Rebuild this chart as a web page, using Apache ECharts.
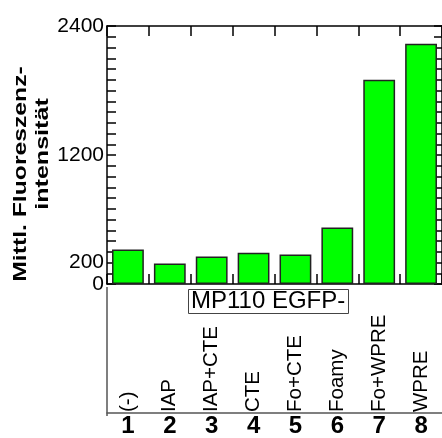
<!DOCTYPE html>
<html>
<head>
<meta charset="utf-8">
<script src="https://cdn.jsdelivr.net/npm/echarts@6/dist/echarts.min.js"></script>
<style>
  html, body { margin: 0; padding: 0; background: #fff; }
  #chart { width: 442px; height: 438px; }
</style>
</head>
<body>
<div id="chart"></div>
<script>
// Construct names, lane numbers and mean fluorescence per construct
const constructs = ['(-)', 'IAP', 'IAP+CTE', 'CTE', 'Fo+CTE', 'Foamy', 'Fo+WPRE', 'WPRE'];
const laneNumbers = ['1', '2', '3', '4', '5', '6', '7', '8'];
const meanFluorescence = [320, 190, 255, 290, 275, 525, 1900, 2235];
const yTickLabels = [0, 200, 1200, 2400];
const groupLabel = 'MP110 EGFP-';
const yTitleLines = ['Mittl. Fluoreszenz-', 'intensität'];

const FONT = '"Liberation Sans", Arial, sans-serif';
const chart = echarts.init(document.getElementById('chart'), null, { renderer: 'canvas' });

const lineStyle = { color: '#000', width: 1.5 };
const frameLine = { show: true, onZero: false, lineStyle };
const boundaryTicks = { show: true, inside: true, length: 10, interval: 0, lineStyle };
const noTick = { show: false };
const noSplit = { show: false };

chart.setOption({
  animation: false,
  backgroundColor: '#fff',
  grid: { left: 107, top: 26, width: 338.7, height: 261, containLabel: false },
  title: {
    text: groupLabel,
    left: 188, top: 290,
    padding: [0, 3],
    borderColor: '#444', borderWidth: 1,
    textStyle: { fontFamily: FONT, fontSize: 24, fontWeight: 'normal', color: '#000', lineHeight: 23 }
  },
  xAxis: [
    { // bottom frame of the plot, ticks between lanes
      type: 'category', data: constructs, position: 'bottom',
      axisLine: frameLine, axisTick: boundaryTicks,
      axisLabel: { show: false, interval: 0 }, splitLine: noSplit
    },
    { // top frame
      type: 'category', data: constructs, position: 'top',
      axisLine: frameLine, axisTick: boundaryTicks,
      axisLabel: { show: false, interval: 0 }, splitLine: noSplit
    },
    { // rotated construct names, standing on the lower box edge
      type: 'category', data: constructs, position: 'bottom', offset: 129,
      axisLine: { show: false, onZero: false }, axisTick: noTick, splitLine: noSplit,
      axisLabel: {
        show: true, inside: true, rotate: 90, interval: 0, margin: 1,
        fontFamily: FONT, fontSize: 20.5, color: '#000'
      }
    },
    { // lane numbers under the box
      type: 'category', data: laneNumbers, position: 'bottom', offset: 129,
      axisLine: { show: true, onZero: false, lineStyle: { color: '#555', width: 1.5 } },
      axisTick: noTick, splitLine: noSplit,
      axisLabel: {
        show: true, interval: 0, margin: 1,
        fontFamily: FONT, fontSize: 24, fontWeight: 'bold', color: '#000'
      }
    }
  ],
  yAxis: [
    {
      type: 'value', min: 0, max: 2400, interval: 100, position: 'left',
      axisLine: frameLine,
      axisTick: { show: true, inside: true, length: 9, lineStyle },
      splitLine: noSplit,
      axisLabel: {
        show: true, margin: 3, fontFamily: FONT, fontSize: 21, color: '#000',
        formatter: v => (yTickLabels.includes(v) ? String(v) : '')
      }
    },
    {
      type: 'value', min: 0, max: 2400, interval: 100, position: 'right',
      axisLine: frameLine,
      axisTick: { show: true, inside: true, length: 8, lineStyle },
      splitLine: noSplit,
      axisLabel: { show: false }
    }
  ],
  series: [{
    type: 'bar',
    xAxisIndex: 0, yAxisIndex: 0,
    data: meanFluorescence,
    barWidth: '76%',
    itemStyle: { color: '#00ff00', borderColor: '#222', borderWidth: 1.5 }
  }],
  graphic: [
    { // left edge of the label box
      type: 'line', shape: { x1: 107, y1: 287, x2: 107, y2: 416 },
      style: { stroke: '#555', lineWidth: 1.5 }, silent: true
    },
    {
      type: 'text', x: 21, y: 174, rotation: Math.PI / 2, scaleX: 1.3,
      style: { text: yTitleLines[0], font: 'bold 19px ' + FONT, fill: '#000', align: 'center', verticalAlign: 'middle' }
    },
    {
      type: 'text', x: 43, y: 154, rotation: Math.PI / 2, scaleX: 1.32,
      style: { text: yTitleLines[1], font: 'bold 19px ' + FONT, fill: '#000', align: 'center', verticalAlign: 'middle' }
    }
  ]
});
</script>
</body>
</html>
